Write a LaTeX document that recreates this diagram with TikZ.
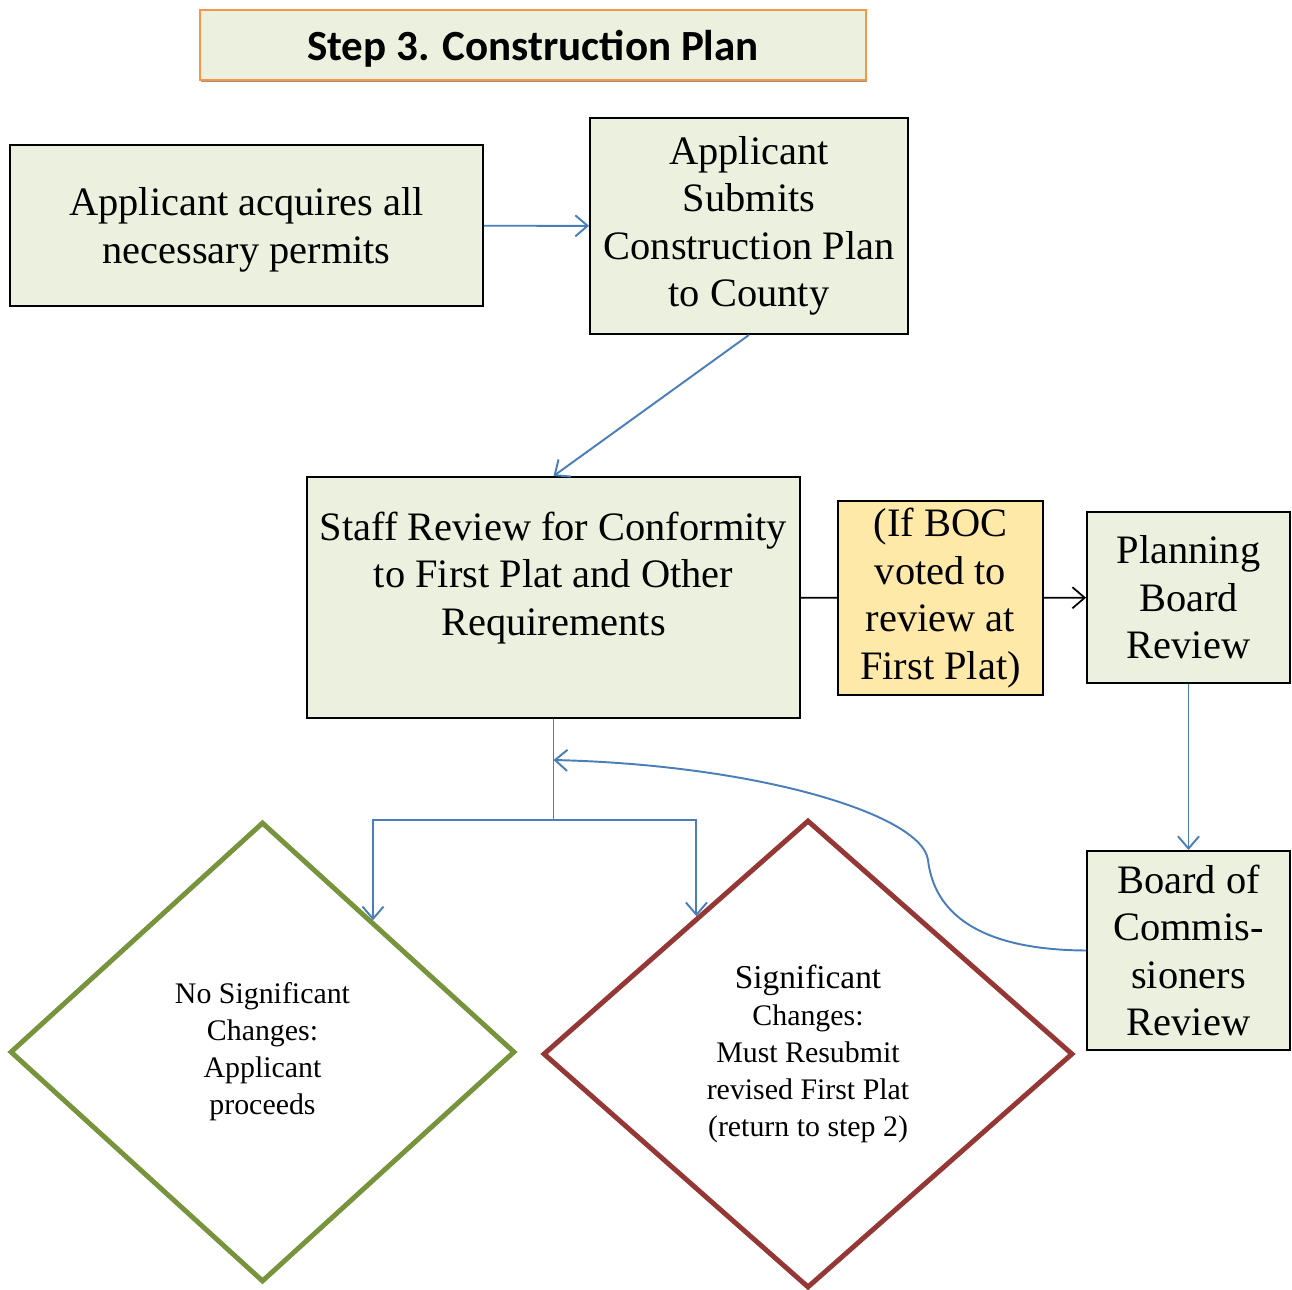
\documentclass[tikz,border=0pt]{standalone}
\usepackage{fontspec}
\setmainfont{Liberation Serif}
\newfontfamily\titlefont{Carlito}
\usepackage{tikz}
\usetikzlibrary{shapes.geometric}
\usetikzlibrary{arrows.meta}
\usetikzlibrary{shadows}
\definecolor{boxgreen}{HTML}{EBF1DE}
\definecolor{boxyellow}{HTML}{FFE9A8}
\definecolor{titleedge}{HTML}{F79646}
\definecolor{flowblue}{HTML}{4A7EBB}
\definecolor{okgreen}{HTML}{77933C}
\definecolor{redo}{HTML}{953735}

\begin{document}
\begin{tikzpicture}[x=0.02cm,y=-0.02cm,
  box/.style={draw,rectangle,fill=boxgreen,line width=1.1pt,align=center,font=\fontsize{23}{27}\selectfont},
  choice/.style={draw,diamond,line width=2.8pt,align=center,inner sep=0pt,font=\fontsize{17}{21}\selectfont},
  flow/.style={draw=flowblue,line width=1.1pt,-{Straight Barb[length=7pt,width=12pt]}},
  flowline/.style={draw=flowblue,line width=1.1pt}]
\useasboundingbox (0,0) rectangle (1292,1290);
\node[draw=titleedge,line width=1.2pt,fill=boxgreen,minimum width=13.32cm,minimum height=1.4cm,text depth=0pt,
  drop shadow={shadow xshift=0.8pt,shadow yshift=-1.3pt,fill=black!45!brown,opacity=.6}] (title)at(533,45)
  {\titlefont\bfseries\fontsize{24.5}{30}\selectfont Step 3. Construction Plan};
\node[box,minimum width=9.46cm,minimum height=3.22cm,text depth=0pt] (permits)at(246.5,225.5) {Applicant acquires all\\necessary permits};
\node[box,minimum width=6.36cm,minimum height=4.32cm] (submit)at(749,226) {Applicant\\Submits\\Construction Plan\\to County};
\node[box,minimum width=9.86cm,minimum height=4.82cm] (staff)at(553.5,597.5) {Staff Review for Conformity\\to First Plat and Other\\Requirements\\[-8pt]\strut};
\node[box,fill=boxyellow,minimum width=4.1cm,minimum height=3.88cm,inner sep=1pt] (boc)at(940.5,598) {(If BOC\\voted to\\review at\\First Plat)};
\node[box,minimum width=4.06cm,minimum height=3.42cm] (planning)at(1188.5,597.5) {Planning\\Board\\Review};
\node[box,minimum width=4.06cm,minimum height=3.98cm] (commish)at(1188.5,950.5) {Board of\\Commis-\\sioners\\Review};
\node[choice,draw=okgreen,minimum width=10.1cm,minimum height=9.2cm] (nosig)at(262.5,1052) {No Significant\\Changes:\\Applicant\\proceeds};
\node[choice,draw=redo,minimum width=10.6cm,minimum height=9.36cm] (sig)at(808,1054) {{\fontsize{19}{23}\selectfont Significant}\\Changes:\\Must Resubmit\\revised First Plat\\(return to step 2)};

\coordinate (fork) at (553.5,820);
\coordinate (loopin) at (553.5,760);
\draw[flow] (permits) -- (submit);
\draw[flow] (submit.south) -- (staff.north);
\draw[line width=1pt] (staff) -- (boc);
\draw[line width=1pt,-{Straight Barb[length=7pt,width=12pt]}] (boc) -- (planning);
\draw[flow] (planning) -- (commish);
\draw[flowline] (staff.south) -- (fork);
\draw[flow] (fork) -| (nosig.50);
\draw[flow] (fork) -| (sig.129);
% back from the board to the review
\draw[flow] (commish.west) .. controls (990,950) and (935,920) .. (928,860)
  .. controls (922,815) and (760,765) .. (loopin);
\end{tikzpicture}
\end{document}
